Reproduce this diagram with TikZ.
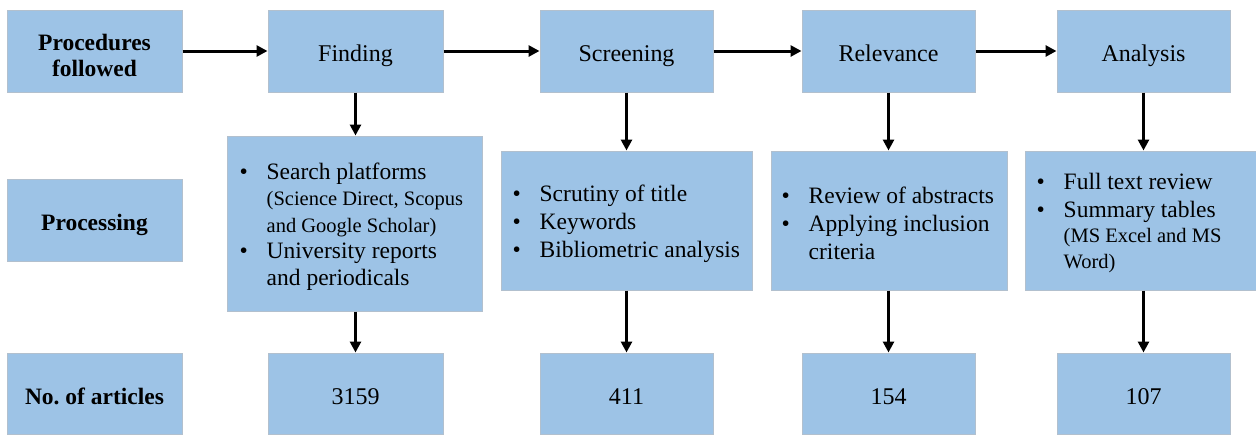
\documentclass[tikz,border=0pt]{standalone}
\usepackage{fontspec}
\setmainfont{Liberation Serif}
\usetikzlibrary{arrows.meta}
\frenchspacing
\definecolor{boxfill}{RGB}{157,195,230}
\definecolor{boxline}{RGB}{178,192,206}
\newcommand{\bul}{\makebox[27pt][l]{\textbullet}}
\newcommand{\ind}{\hspace*{27pt}}
\newcommand{\sm}{\fontsize{20.5}{26}\selectfont}
\begin{document}
\begin{tikzpicture}[x=1pt,y=-1pt,
  blk/.style={fill=boxfill,draw=boxline,line width=1pt,inner sep=0},
  lbl/.style={font=\fontsize{24}{27}\selectfont,align=center,inner sep=0,yshift=-5pt,text height=16pt,text depth=5pt},
  hd/.style={font=\fontsize{23.5}{26}\selectfont\bfseries,align=center,inner sep=0,yshift=-5pt},
  hd1/.style={hd,text height=16pt,text depth=5pt},
  lst/.style={font=\fontsize{23.5}{28}\selectfont,align=left,anchor=west,inner sep=0},
  arr/.style={line width=3pt,-{Triangle[length=11pt,width=11pt]}}]
\useasboundingbox (0,0) rectangle (1256,434);
% row 1
\node[blk,minimum width=175pt,minimum height=82pt] (P1) at (94.5,51) {};
\node[blk,minimum width=175pt,minimum height=82pt] (F1) at (355.5,51) {};
\node[blk,minimum width=173pt,minimum height=82pt] (S1) at (626.5,51) {};
\node[blk,minimum width=173pt,minimum height=82pt] (R1) at (888.5,51) {};
\node[blk,minimum width=173pt,minimum height=82pt] (A1) at (1143.5,51) {};
\node[hd,yshift=1pt] (P1t) at (P1) {Procedures\\followed};
\node[lbl] (F1t) at (F1) {Finding};
\node[lbl] (S1t) at (S1) {Screening};
\node[lbl] (R1t) at (R1) {Relevance};
\node[lbl] (A1t) at (A1) {Analysis};
% row 2
\node[blk,minimum width=175pt,minimum height=82pt] (P2) at (94.5,220) {};
\node[blk,minimum width=255pt,minimum height=175pt] (F2) at (354.5,223.5) {};
\node[blk,minimum width=251pt,minimum height=139pt] (S2) at (626.5,220.5) {};
\node[blk,minimum width=236pt,minimum height=139pt] (R2) at (889,220.5) {};
\node[blk,minimum width=231pt,minimum height=139pt] (A2) at (1140.5,220.5) {};
\node[hd1] (P2t) at (P2) {Processing};
\node[lst,font=\fontsize{23.5}{26.5}\selectfont] (F2t) at ([xshift=13pt,yshift=-3pt]F2.west) {\bul Search platforms\\
  \ind{\sm (Science Direct, Scopus}\\
  \ind{\sm and Google Scholar)}\\
  \bul University reports\\
  \ind and periodicals};
\node[lst] (S2t) at ([xshift=12pt,yshift=-3pt]S2.west) {\bul Scrutiny of title\\
  \bul Keywords\\
  \bul Bibliometric analysis};
\node[lst] (R2t) at ([xshift=11pt,yshift=-3pt]R2.west) {\bul Review of abstracts\\
  \bul Applying inclusion\\
  \ind criteria};
\node[lst] (A2t) at ([xshift=12pt,yshift=-3pt]A2.west) {\bul Full text review\\
  \bul Summary tables\\[-3pt]
  \ind{\sm (MS Excel and MS}\\[-2pt]
  \ind{\sm Word)}};
% row 3
\node[blk,minimum width=175pt,minimum height=81pt] (P3) at (94.5,393.5) {};
\node[blk,minimum width=175pt,minimum height=81pt] (F3) at (355.5,393.5) {};
\node[blk,minimum width=173pt,minimum height=81pt] (S3) at (626.5,393.5) {};
\node[blk,minimum width=173pt,minimum height=81pt] (R3) at (888.5,393.5) {};
\node[blk,minimum width=173pt,minimum height=81pt] (A3) at (1143.5,393.5) {};
\node[hd1] (P3t) at (P3) {No.\ of articles};
\node[lbl] (F3t) at (F3) {3159};
\node[lbl] (S3t) at (S3) {411};
\node[lbl] (R3t) at (R3) {154};
\node[lbl] (A3t) at (A3) {107};
% arrows
\draw[arr] (P1.east) -- (F1.west);
\draw[arr] (F1.east) -- (S1.west);
\draw[arr] (S1.east) -- (R1.west);
\draw[arr] (R1.east) -- (A1.west);
\foreach \n in {F,S,R,A}{
  \draw[arr] (\n1.south) -- (\n1.south |- \n2.north);
  \draw[arr] (\n3.north |- \n2.south) -- (\n3.north);
}
\end{tikzpicture}
\end{document}
